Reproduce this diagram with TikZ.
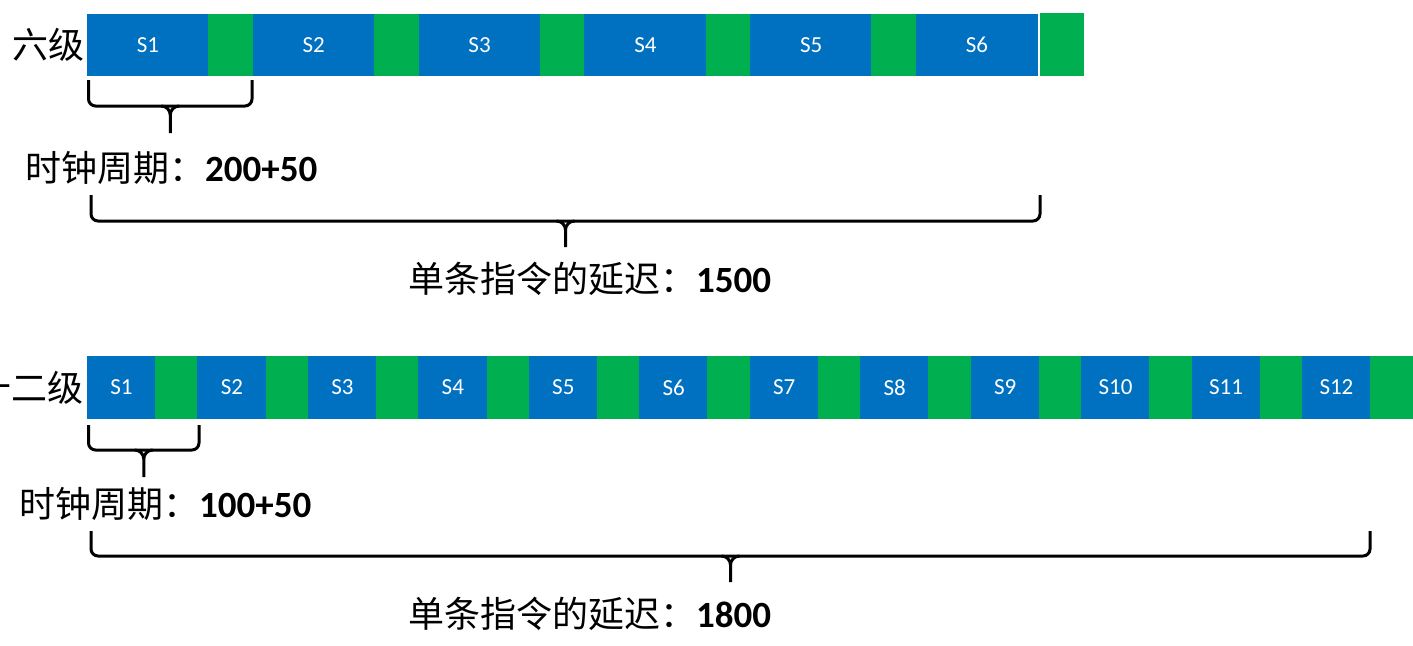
\documentclass[tikz,border=0pt]{standalone}
\usepackage{fontspec}
\setmainfont{Carlito}
\newfontfamily\cjk{Noto Sans CJK SC}
\newfontfamily\numf{Carlito}
\definecolor{stageblue}{HTML}{0070C0}
\definecolor{latchgreen}{HTML}{00B050}
\newcommand\drawbrace[5]{%
  \pgfmathsetmacro\bxm{(#1+#2)/2}%
  \pgfmathsetmacro\bxl{\bxm-9}%
  \pgfmathsetmacro\bxr{\bxm+9}%
  \pgfmathsetmacro\byc{#4+9}%
  \draw[bracestyle] (#1,#3) -- (#1,#4) -- (#2,#4) -- (#2,#3);
  \draw[cuspstyle] (\bxl,#4) to[out=0,in=90] (\bxm,\byc) -- (\bxm,#5);
  \draw[cuspstyle] (\bxr,#4) to[out=180,in=90] (\bxm,\byc);
}
\begin{document}
\begin{tikzpicture}[x=1pt,y=-1pt,
  blk/.style={fill=stageblue,draw=stageblue,line width=0.8pt,inner sep=0,outer sep=0,anchor=north west,text=white,font=\numf\fontsize{23}{23}\selectfont},
  grn/.style={fill=latchgreen,draw=latchgreen,line width=0.8pt,inner sep=0,outer sep=0,anchor=north west},
  bracestyle/.style={line width=3pt,rounded corners=7pt,line cap=butt},
  cuspstyle/.style={line width=3pt},
  lbl/.style={inner sep=0,anchor=west,font=\cjk\fontsize{36}{38}\selectfont},
  stagelbl/.style={inner sep=0,anchor=east,font=\cjk\fontsize{36}{36}\selectfont}
]
\useasboundingbox (0,0) rectangle (1413,645);
% top row: six stages
\foreach \i in {1,...,6}{
  \pgfmathsetmacro\xx{87.4+(\i-1)*165.8}
  \node[blk,minimum width=121.2pt,minimum height=61.2pt] (a\i) at (\xx,14.4) {S\i};
  \ifnum\i<6
    \node[grn,minimum width=43.8pt,minimum height=61.2pt] (ag\i) at (a\i.north east) {};
  \fi
}
\node[grn,minimum width=43.2pt,minimum height=62.2pt] (ag6) at (1040.4,13.4) {};
\node[stagelbl] (l6) at (85,45) {六级};
% bottom row: twelve stages
\foreach \i in {1,...,12}{
  \pgfmathsetmacro\xx{87.4+(\i-1)*110.45}
  \node[blk,minimum width=68.2pt,minimum height=62.2pt] (b\i) at (\xx,356.4) {S\i};
  \node[grn,minimum width=42.25pt,minimum height=62.2pt] (bg\i) at (b\i.north east) {};
}
\node[stagelbl] (l12) at (84,388) {十二级};
% braces
\drawbrace{88.5}{252}{80}{106}{133}
\drawbrace{91}{1040}{195}{221}{247}
\drawbrace{88.5}{199}{425}{450}{477}
\drawbrace{91}{1370}{531}{556}{582}
% labels
\node[lbl] (c1) at (25,168) {时钟周期：{\numf\bfseries\fontsize{37}{37}\selectfont 200+50}};
\node[lbl] (d1) at (408,279) {单条指令的延迟：{\numf\bfseries\fontsize{37}{37}\selectfont 1500}};
\node[lbl] (c2) at (19,504) {时钟周期：{\numf\bfseries\fontsize{37}{37}\selectfont 100+50}};
\node[lbl] (d2) at (408,614) {单条指令的延迟：{\numf\bfseries\fontsize{37}{37}\selectfont 1800}};
\end{tikzpicture}
\end{document}
